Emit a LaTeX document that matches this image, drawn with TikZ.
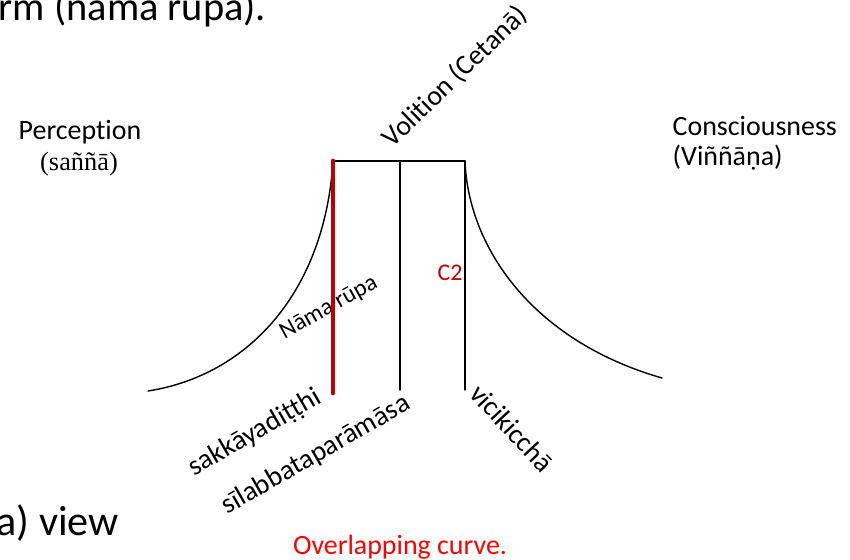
\documentclass[tikz,border=0pt]{standalone}
\usepackage{fontspec}
\setmainfont{Carlito}[Ligatures=NoCommon]
\newfontfamily\palifont{Liberation Serif}
\definecolor{darkred}{HTML}{C00000}

\begin{document}
\begin{tikzpicture}[x=0.02cm,y=-0.02cm,line cap=round,line width=0.8pt,
  lbl/.style={inner sep=0pt,font=\fontsize{15.9}{19}\selectfont},
  small/.style={inner sep=0pt,font=\fontsize{13.6}{16}\selectfont},
  big/.style={inner sep=0pt,font=\fontsize{23}{27}\selectfont}]
\useasboundingbox (0,0) rectangle (850,559);
% frame of the curve
\coordinate (ltop) at (333,161);
\coordinate (mtop) at (400,161);
\coordinate (rtop) at (465,161);
\coordinate (lfoot) at (148,391);
\coordinate (rfoot) at (662,378);
\coordinate (lbot) at (333,393);
\coordinate (mbot) at (400,390);
\coordinate (rbot) at (465,390);
\draw (lfoot) .. controls (250,375) and (325,290) .. (ltop);
\draw (rtop) .. controls (468,245) and (530,340) .. (rfoot);
\draw (ltop) -- (rtop);
\draw (mtop) -- (mbot);
\draw (rtop) -- (rbot);
% slide text
\node[big,anchor=base west] (head) at (-2,20) {rm (nāma rūpa).};
\node[big,anchor=base west,font=\fontsize{24}{28}\selectfont] (view) at (-4,535) {a) view};
% labels
\node[lbl,anchor=base] (perc) at (80,139) {Perception};
\node[lbl,anchor=base,font=\palifont\fontsize{15}{18}\selectfont] (sanna) at (79,170) {(saññā)};
\node[lbl,anchor=base west] (cons) at (672,135) {Consciousness};
\node[lbl,anchor=base west] (vinn) at (672,165) {(Viññāṇa)};
\node[lbl,rotate=44] (vol) at (455,77) {Volition (Cetanā)};
\node[small,rotate=29] (nama) at (329,308) {Nāma rūpa};
\node[small,text=darkred] (ctwo) at (450,273) {C2};
\node[lbl,rotate=30] (sakk) at (255,433) {sakkāyadiṭṭhi};
\node[lbl,rotate=30] (sila) at (316,455) {sīlabbataparāmāsa};
\node[lbl,rotate=-47] (vici) at (512,428) {vicikicchā};
\node[lbl,anchor=base,text=red] (cap) at (400,554) {Overlapping curve.};
% red stroke on top
\draw[darkred,line width=2.8pt] (ltop) -- (lbot);
\end{tikzpicture}
\end{document}
